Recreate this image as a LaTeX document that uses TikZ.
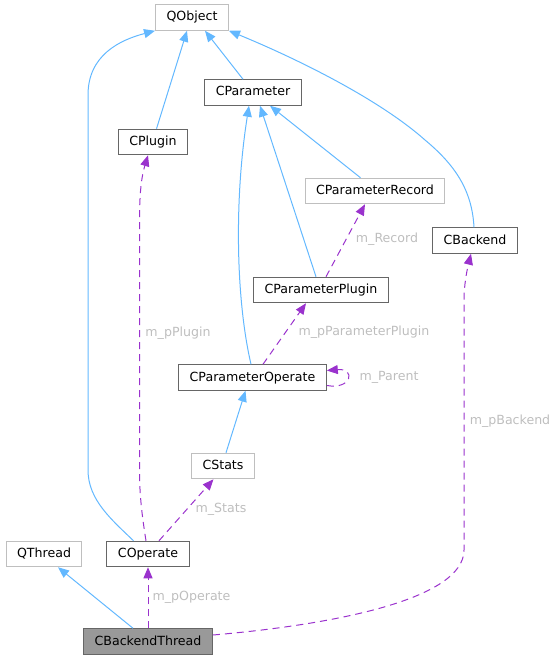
\documentclass[tikz,border=0pt]{standalone}
\usepackage{fontspec}
\setmainfont{DejaVu Sans}
\usetikzlibrary{arrows.meta}
\definecolor{inhblue}{HTML}{63B8FF}
\definecolor{usepurple}{HTML}{9A32CD}
\definecolor{dkborder}{HTML}{666666}
\definecolor{ltborder}{HTML}{BFBFBF}
\definecolor{lblgray}{HTML}{BEBEBE}
\definecolor{curfill}{HTML}{999999}
\begin{document}
\begin{tikzpicture}[x=1pt,y=-1pt,
    every node/.style={font=\fontsize{12.6}{15}\selectfont},
    cls/.style={draw=dkborder,line width=1pt,fill=white,inner xsep=11pt,
        minimum height=25.5pt,text height=9.5pt,text depth=2.5pt},
    ucls/.style={cls,draw=ltborder},
    inh/.style={inhblue,line width=1pt,->,>={Triangle[length=11pt,width=9pt]}},
    use/.style={usepurple,line width=1pt,dash pattern=on 7pt off 5pt,->,>={Triangle[length=11pt,width=9pt]}},
    lbl/.style={text=lblgray,inner sep=0pt}]
        \useasboundingbox (0,0) rectangle (553,660);
        \node[ucls] (QObject) at (192,17.5) {QObject};
        \node[cls] (CParameter) at (253,92.5) {CParameter};
        \node[cls] (CPlugin) at (153,142) {CPlugin};
        \node[ucls] (CParameterRecord) at (375,191) {CParameterRecord};
        \node[cls] (CBackend) at (475,240.5) {CBackend};
        \node[cls] (CParameterPlugin) at (321,290) {CParameterPlugin};
        \node[cls] (CParameterOperate) at (252.5,377.5) {CParameterOperate};
        \node[ucls] (CStats) at (223,466) {CStats};
        \node[ucls] (QThread) at (44,554) {QThread};
        \node[cls] (COperate) at (148,554) {COperate};
        \node[cls,fill=curfill] (CBackendThread) at (148,641.5) {CBackendThread};
        \draw[inh] ([xshift=-10pt]CParameter.north) -- ([xshift=13pt]QObject.south);
        \draw[inh] ([xshift=3.5pt]CPlugin.north) -- ([xshift=-5pt]QObject.south);
        \draw[inh] ([xshift=-14.5pt]COperate.north) .. controls (112,520) and (88,500) .. (88,470)
            -- (88,95) .. controls (88,55) and (120,40) .. (QObject.south west);
        \draw[inh] ([xshift=-1pt]CBackend.north) .. controls (472,190) and (455,165) .. (425,140)
            .. controls (380,100) and (300,60) .. (QObject.south east);
        \draw[inh] ([xshift=-1.5pt]CParameterOperate.north) .. controls (236,300) and (234,200)
            .. ([xshift=-4pt]CParameter.south);
        \draw[inh] ([xshift=-5pt]CParameterPlugin.north) -- ([xshift=7pt]CParameter.south);
        \draw[inh] ([xshift=-14.5pt]CParameterRecord.north) -- ([xshift=17pt]CParameter.south);
        \draw[inh] ([xshift=3pt]CStats.north) -- ([xshift=-7pt]CParameterOperate.south);
        \draw[inh] ([xshift=-15pt]CBackendThread.north) -- ([xshift=14pt]QThread.south);
        \draw[use] (CBackendThread.north) -- (COperate.south);
        \draw[use] ([xshift=11pt]COperate.north) -- ([xshift=-9.5pt]CStats.south);
        \draw[use] ([xshift=-2pt]COperate.north) .. controls (141,510) and (139.5,490) .. (139.5,470)
            -- (139.5,220) .. controls (139.5,190) and (142,175) .. ([xshift=-5pt]CPlugin.south);
        \draw[use] ([xshift=10.5pt]CParameterOperate.north) -- ([xshift=-15pt]CParameterPlugin.south);
        \draw[use] ([xshift=5pt]CParameterPlugin.north) -- ([xshift=-10pt]CParameterRecord.south);
        \draw[use] ([yshift=6.5pt]CBackendThread.east) .. controls (330,625) and (464,600) .. (464,550)
            -- (464,300) .. controls (464,285) and (467,270) .. ([xshift=-4pt]CBackend.south);
        \draw[use] ([yshift=-8pt]CParameterOperate.east) .. controls (352,390) and (356,368)
            .. ([yshift=7pt]CParameterOperate.east);
        \node[lbl] (lPlugin) at (178,333) {m\_pPlugin};
        \node[lbl] (lRecord) at (387,239) {m\_Record};
        \node[lbl] (lParameterPlugin) at (364,332) {m\_pParameterPlugin};
        \node[lbl] (lParent) at (389,377) {m\_Parent};
        \node[lbl] (lBackend) at (510,421) {m\_pBackend};
        \node[lbl] (lStats) at (221,509) {m\_Stats};
        \node[lbl] (lOperate) at (191.5,597) {m\_pOperate};
\end{tikzpicture}
\end{document}
